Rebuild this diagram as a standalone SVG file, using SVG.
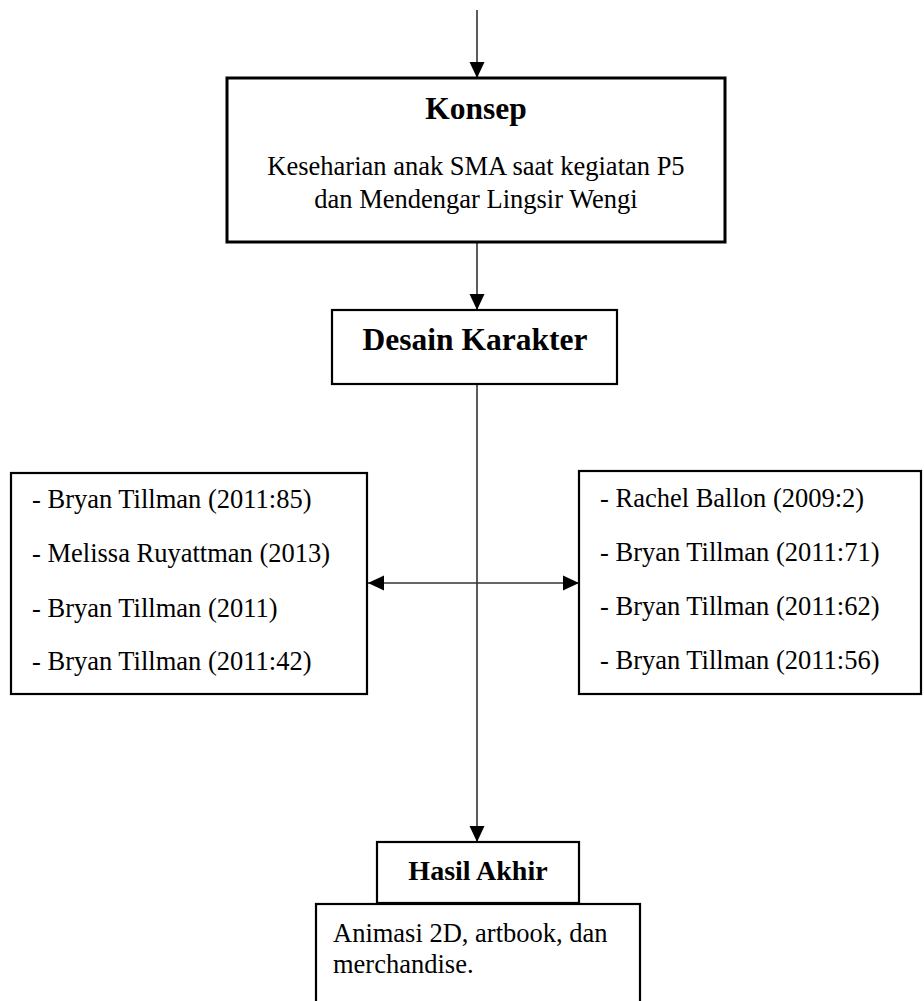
<svg xmlns="http://www.w3.org/2000/svg" width="924" height="1001" viewBox="0 0 924 1001">
<style>
.box{fill:#fff;stroke:#000;stroke-width:2.2}
.thick{stroke-width:3}
.t{font-family:"Liberation Serif","Times New Roman",serif;font-size:26.5px;fill:#000}
.b{font-family:"Liberation Serif","Times New Roman",serif;font-weight:bold;fill:#000}
.c{stroke:#333;stroke-width:1.6;fill:none}
</style>
<defs>
<marker id="ah" viewBox="0 0 16 16" refX="16" refY="8" markerWidth="16" markerHeight="16" markerUnits="userSpaceOnUse" orient="auto-start-reverse">
<path d="M0,0.5 L16,8 L0,15.5 Z" fill="#000"/>
</marker>
</defs>
<rect width="924" height="1001" fill="#fff"/>
<g id="connectors">
<line class="c" x1="477" y1="10" x2="477" y2="78" marker-end="url(#ah)"/>
<line class="c" x1="477" y1="242" x2="477" y2="310" marker-end="url(#ah)"/>
<line class="c" x1="477" y1="384" x2="477" y2="842" marker-end="url(#ah)"/>
<line class="c" x1="368" y1="583" x2="579" y2="583" marker-start="url(#ah)" marker-end="url(#ah)"/>
</g>
<g id="konsep">
<rect class="box thick" x="227" y="78" width="498" height="164"/>
<text class="b" x="476" y="119" font-size="31.5" text-anchor="middle">Konsep</text>
<text class="t" x="476" y="175" text-anchor="middle">Keseharian anak SMA saat kegiatan P5</text>
<text class="t" x="476" y="208" text-anchor="middle">dan Mendengar Lingsir Wengi</text>
</g>
<g id="desain">
<rect class="box" x="332" y="310" width="285" height="74" stroke-width="2.5"/>
<text class="b" x="475" y="350" font-size="31.5" text-anchor="middle">Desain Karakter</text>
</g>
<g id="left-refs">
<rect class="box" x="11" y="473" width="356" height="221"/>
<text class="t" x="32" y="508">- Bryan Tillman (2011:85)</text>
<text class="t" x="32" y="562">- Melissa Ruyattman (2013)</text>
<text class="t" x="32" y="617">- Bryan Tillman (2011)</text>
<text class="t" x="32" y="670">- Bryan Tillman (2011:42)</text>
</g>
<g id="right-refs">
<rect class="box" x="579" y="471" width="342" height="223"/>
<text class="t" x="600" y="507">- Rachel Ballon (2009:2)</text>
<text class="t" x="600" y="561">- Bryan Tillman (2011:71)</text>
<text class="t" x="600" y="615">- Bryan Tillman (2011:62)</text>
<text class="t" x="600" y="669">- Bryan Tillman (2011:56)</text>
</g>
<g id="hasil">
<rect class="box" x="377" y="842" width="202" height="61"/>
<text class="b" x="478" y="880" font-size="28" text-anchor="middle">Hasil Akhir</text>
</g>
<g id="hasil-desc">
<rect class="box" x="316" y="904" width="324" height="110"/>
<text class="t" x="333" y="942">Animasi 2D, artbook, dan</text>
<text class="t" x="333" y="973">merchandise.</text>
</g>
</svg>
